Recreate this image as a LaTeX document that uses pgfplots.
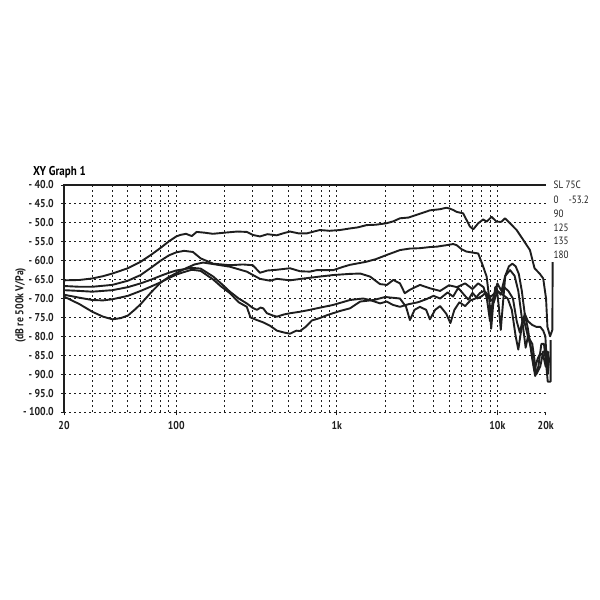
\documentclass[border=0pt]{standalone}
\usepackage{fontspec}
\setmainfont{PT Sans}[FakeStretch=0.86]
\usepackage{pgfplots}
\pgfplotsset{compat=1.18}

\definecolor{ink}{HTML}{1E1E1E}

\pgfplotsset{curve/.style={ink, line width=0.95pt, line join=round, no marks}}

\begin{document}
\begin{tikzpicture}
\path[use as bounding box] (0,0) rectangle (300pt,300pt);

\node[anchor=west, font=\bfseries\fontsize{6.4}{7}\selectfont] at (13pt,214pt) {XY Graph 1};

\begin{axis}[
    at={(32pt,94pt)}, anchor=south west,
    scale only axis, width=240.85pt, height=113.5pt,
    xmode=log, xmin=20, xmax=20000, ymin=-100, ymax=-40,
    clip=false,
    axis line style={draw=none},
    xtick={100,1000,10000}, xticklabels={100,1k,10k},
    extra x ticks={20,20000}, extra x tick labels={20,20k},
    extra x tick style={grid=none},
    minor xtick={30,40,50,60,70,80,90,200,300,400,500,600,700,800,900,
                 2000,3000,4000,5000,6000,7000,8000,9000},
    ytick={-100,-95,-90,-85,-80,-75,-70,-65,-60,-55,-50,-45,-40},
    yticklabels={- 100.0,- 95.0,- 90.0,- 85.0,- 80.0,- 75.0,- 70.0,- 65.0,- 60.0,- 55.0,- 50.0,- 45.0,- 40.0},
    grid=both,
    major grid style={ink, line width=0.45pt, dash pattern=on 1.1pt off 1.4pt},
    minor grid style={ink, line width=0.45pt, dash pattern=on 1.1pt off 1.4pt},
    tick pos=left, tick align=outside,
    major tick length=1.6pt, minor tick length=0pt,
    tick style={ink, line width=0.5pt},
    ticklabel style={font=\bfseries\fontsize{5.7}{6}\selectfont, text=ink},
    xticklabel style={yshift=0.6pt},
    ylabel={(dB re 500k V/Pa)},
    every axis y label/.style={at={(axis description cs:-0.09,0.47)}, rotate=90, anchor=center,
        font=\bfseries\fontsize{5.7}{6}\selectfont, text=ink},
]

% 0 deg
\addplot[curve] coordinates {
(20,-65.2)(25,-65.1)(30,-64.7)(35,-64.1)(40,-63.4)(50,-62.0)(60,-60.3)(70,-58.4)
(80,-56.6)(90,-54.9)(100,-53.6)(106,-53.2)(115,-52.9)(125,-53.5)(134,-52.4)(150,-52.6)
(169,-52.9)(200,-52.6)(240,-52.3)(275,-52.4)(300,-53.2)(332,-53.6)(370,-53.0)(422,-53.3)
(470,-52.7)(511,-52.3)(580,-52.8)(649,-52.8)(720,-52.3)(785,-51.9)(900,-52.1)(1047,-51.9)
(1200,-51.5)(1350,-51.2)(1534,-50.6)(1750,-50.5)(2043,-50.1)(2250,-49.6)(2473,-48.8)
(2800,-48.6)(3294,-47.6)(3801,-46.7)(4387,-46.4)(4832,-46.0)(5100,-46.3)(5309,-46.6)
(5575,-47.1)(6126,-47.5)(6748,-51.0)(7081,-51.7)(7603,-50.1)(8165,-49.1)(8573,-49.7)
(9205,-48.4)(9888,-49.7)(10620,-49.7)(11148,-48.8)(11976,-50.1)(13180,-51.9)(14490,-54.5)
(15952,-57.2)(17040,-62.0)(18400,-63.5)(19300,-64.7)(20100,-70.0)(20500,-77.5)
(21300,-80.0)(22000,-78.3)(22100,-60.4)
};

% 90 deg
\addplot[curve] coordinates {
(20,-66.7)(25,-66.9)(30,-66.9)(40,-66.4)(50,-65.3)(60,-63.8)(70,-61.8)(80,-60.0)
(90,-58.6)(100,-57.8)(112,-57.4)(127,-57.7)(142,-59.4)(170,-60.8)(216,-61.2)(260,-61.0)
(300,-61.2)(332,-63.2)(370,-62.6)(424,-62.4)(511,-62.0)(590,-62.8)(680,-62.9)(750,-62.5)
(949,-62.5)(1100,-61.6)(1208,-61.1)(1523,-60.3)(1750,-59.6)(2043,-58.5)(2473,-57.2)
(2853,-56.8)(3294,-56.7)(3801,-56.4)(4188,-56.3)(4832,-55.9)(5309,-55.6)(5575,-55.9)
(6000,-57.0)(6430,-57.6)(7100,-57.9)(7603,-58.1)(8165,-61.6)(8573,-64.2)(8900,-70.0)
(9150,-78.0)(9400,-72.0)(9700,-67.0)(9900,-67.0)(10200,-72.0)(10500,-78.3)(10800,-72.0)
(11200,-64.0)(11800,-61.5)(12400,-60.8)(13000,-61.5)(13600,-63.5)(14200,-68.0)(14800,-74.0)
(15500,-76.0)(16500,-77.0)(17500,-77.5)(18500,-77.5)(19300,-78.5)(19900,-80.0)(20400,-88.0)
(20800,-84.0)
};

% 125 deg
\addplot[curve] coordinates {
(20,-67.8)(25,-68.0)(30,-68.2)(40,-67.8)(50,-67.0)(60,-66.0)(70,-65.0)(80,-64.0)
(90,-63.2)(100,-62.6)(110,-62.3)(125,-61.9)(142,-62.1)(170,-64.2)(190,-66.0)(216,-68.2)
(245,-70.0)(275,-71.3)(300,-72.5)(318,-73.0)(335,-72.4)(348,-72.6)(367,-73.9)(400,-74.5)
(424,-74.8)(470,-74.2)(511,-73.9)(590,-73.5)(680,-73.0)(750,-72.6)(949,-71.7)(1208,-70.4)
(1460,-70.0)(1610,-70.4)(1860,-71.3)(2043,-70.8)(2240,-71.7)(2473,-72.2)(2800,-71.5)
(3200,-71.0)(3600,-70.2)(4000,-69.3)(4400,-70.0)(4900,-68.4)(5300,-69.5)(5700,-67.2)
(6200,-69.0)(6600,-70.3)(7000,-68.5)(7500,-70.0)(8000,-69.4)(8500,-68.4)(9000,-70.0)
(9500,-71.0)(10000,-68.0)(10500,-69.0)(11000,-67.0)(11700,-68.0)(12500,-70.0)(13200,-76.0)
(13800,-79.0)(14500,-75.0)(15500,-80.0)(16200,-83.0)(17000,-89.0)(17800,-86.0)(18500,-84.5)
(19300,-85.0)(20000,-88.0)(20500,-84.0)(21000,-86.0)
};

% 135 deg
\addplot[curve] coordinates {
(20,-69.0)(25,-69.8)(30,-70.4)(35,-70.5)(40,-70.2)(50,-69.3)(60,-68.0)(70,-66.8)
(80,-65.7)(90,-64.6)(100,-63.7)(110,-63.1)(125,-62.4)(142,-62.7)(170,-65.0)(190,-66.8)
(216,-68.6)(245,-71.0)(275,-72.2)(290,-75.0)(318,-75.7)(348,-76.3)(384,-77.2)(424,-78.5)
(470,-79.0)(511,-79.3)(560,-78.5)(590,-78.6)(640,-77.5)(700,-75.8)(780,-75.2)(870,-74.4)
(1047,-73.3)(1208,-72.6)(1400,-70.8)(1700,-70.4)(2000,-69.6)(2473,-70.0)(2700,-72.2)
(2853,-75.7)(3050,-73.0)(3294,-72.2)(3600,-73.0)(3800,-75.5)(4100,-73.0)(4400,-72.0)
(4800,-74.0)(5100,-76.5)(5400,-73.0)(5800,-71.0)(6300,-72.0)(6800,-70.5)(7300,-70.0)
(7800,-68.5)(8300,-68.0)(8800,-70.0)(9400,-69.0)(10000,-68.0)(10800,-69.0)(11600,-70.0)
(12300,-73.0)(13000,-80.0)(13500,-83.5)(14000,-79.0)(14800,-74.0)(15500,-78.0)(16500,-86.0)
(17200,-90.5)(18000,-88.0)(18800,-82.0)(19500,-82.0)(20000,-86.0)(20600,-92.0)(21440,-92.0)
(21440,-81.0)
};

% 180 deg
\addplot[curve] coordinates {
(20,-69.5)(25,-71.5)(30,-73.5)(35,-74.8)(40,-75.5)(45,-75.2)(50,-74.5)(55,-73.0)
(60,-71.5)(70,-68.3)(80,-65.8)(90,-64.3)(100,-63.3)(115,-62.0)(130,-61.0)(147,-60.5)
(170,-60.9)(216,-61.6)(275,-62.9)(332,-64.8)(384,-65.3)(424,-64.8)(511,-65.2)(600,-64.8)
(785,-64.2)(949,-63.8)(1200,-63.5)(1400,-63.4)(1610,-64.2)(1860,-66.2)(2050,-66.4)
(2250,-65.1)(2473,-66.0)(2650,-68.6)(2850,-67.7)(3294,-66.4)(3800,-67.3)(4400,-68.0)
(5000,-66.5)(5600,-67.0)(6300,-66.0)(7000,-67.5)(7600,-66.0)(8200,-67.0)(8600,-70.0)
(9000,-76.0)(9400,-70.0)(10000,-66.0)(10600,-68.0)(11200,-64.0)(12000,-62.5)(12800,-64.0)
(13500,-68.0)(14500,-78.0)(15000,-83.0)(15500,-80.0)(16500,-82.0)(17000,-86.0)(17500,-90.0)
(18500,-88.0)(19300,-84.0)(20000,-84.0)(20600,-90.0)(21000,-86.0)
};

\draw[ink, line width=1.4pt] (rel axis cs:0,0) -- (rel axis cs:0,1) -- (rel axis cs:1,1);

\begin{scope}[every node/.style={anchor=west, font=\fontsize{5.3}{6}\selectfont, text=ink, inner sep=0pt}]
\node at ([xshift=3.8pt]rel axis cs:1,1) {SL 75C};
\node at ([xshift=3.8pt, yshift=-7.3pt]rel axis cs:1,1) {0\hspace{5pt}-53.2};
\node at ([xshift=3.8pt, yshift=-14.2pt]rel axis cs:1,1) {90};
\node at ([xshift=3.8pt, yshift=-21.3pt]rel axis cs:1,1) {125};
\node at ([xshift=3.8pt, yshift=-28.0pt]rel axis cs:1,1) {135};
\node at ([xshift=3.8pt, yshift=-35.0pt]rel axis cs:1,1) {180};
\end{scope}
\end{axis}
\end{tikzpicture}
\end{document}
